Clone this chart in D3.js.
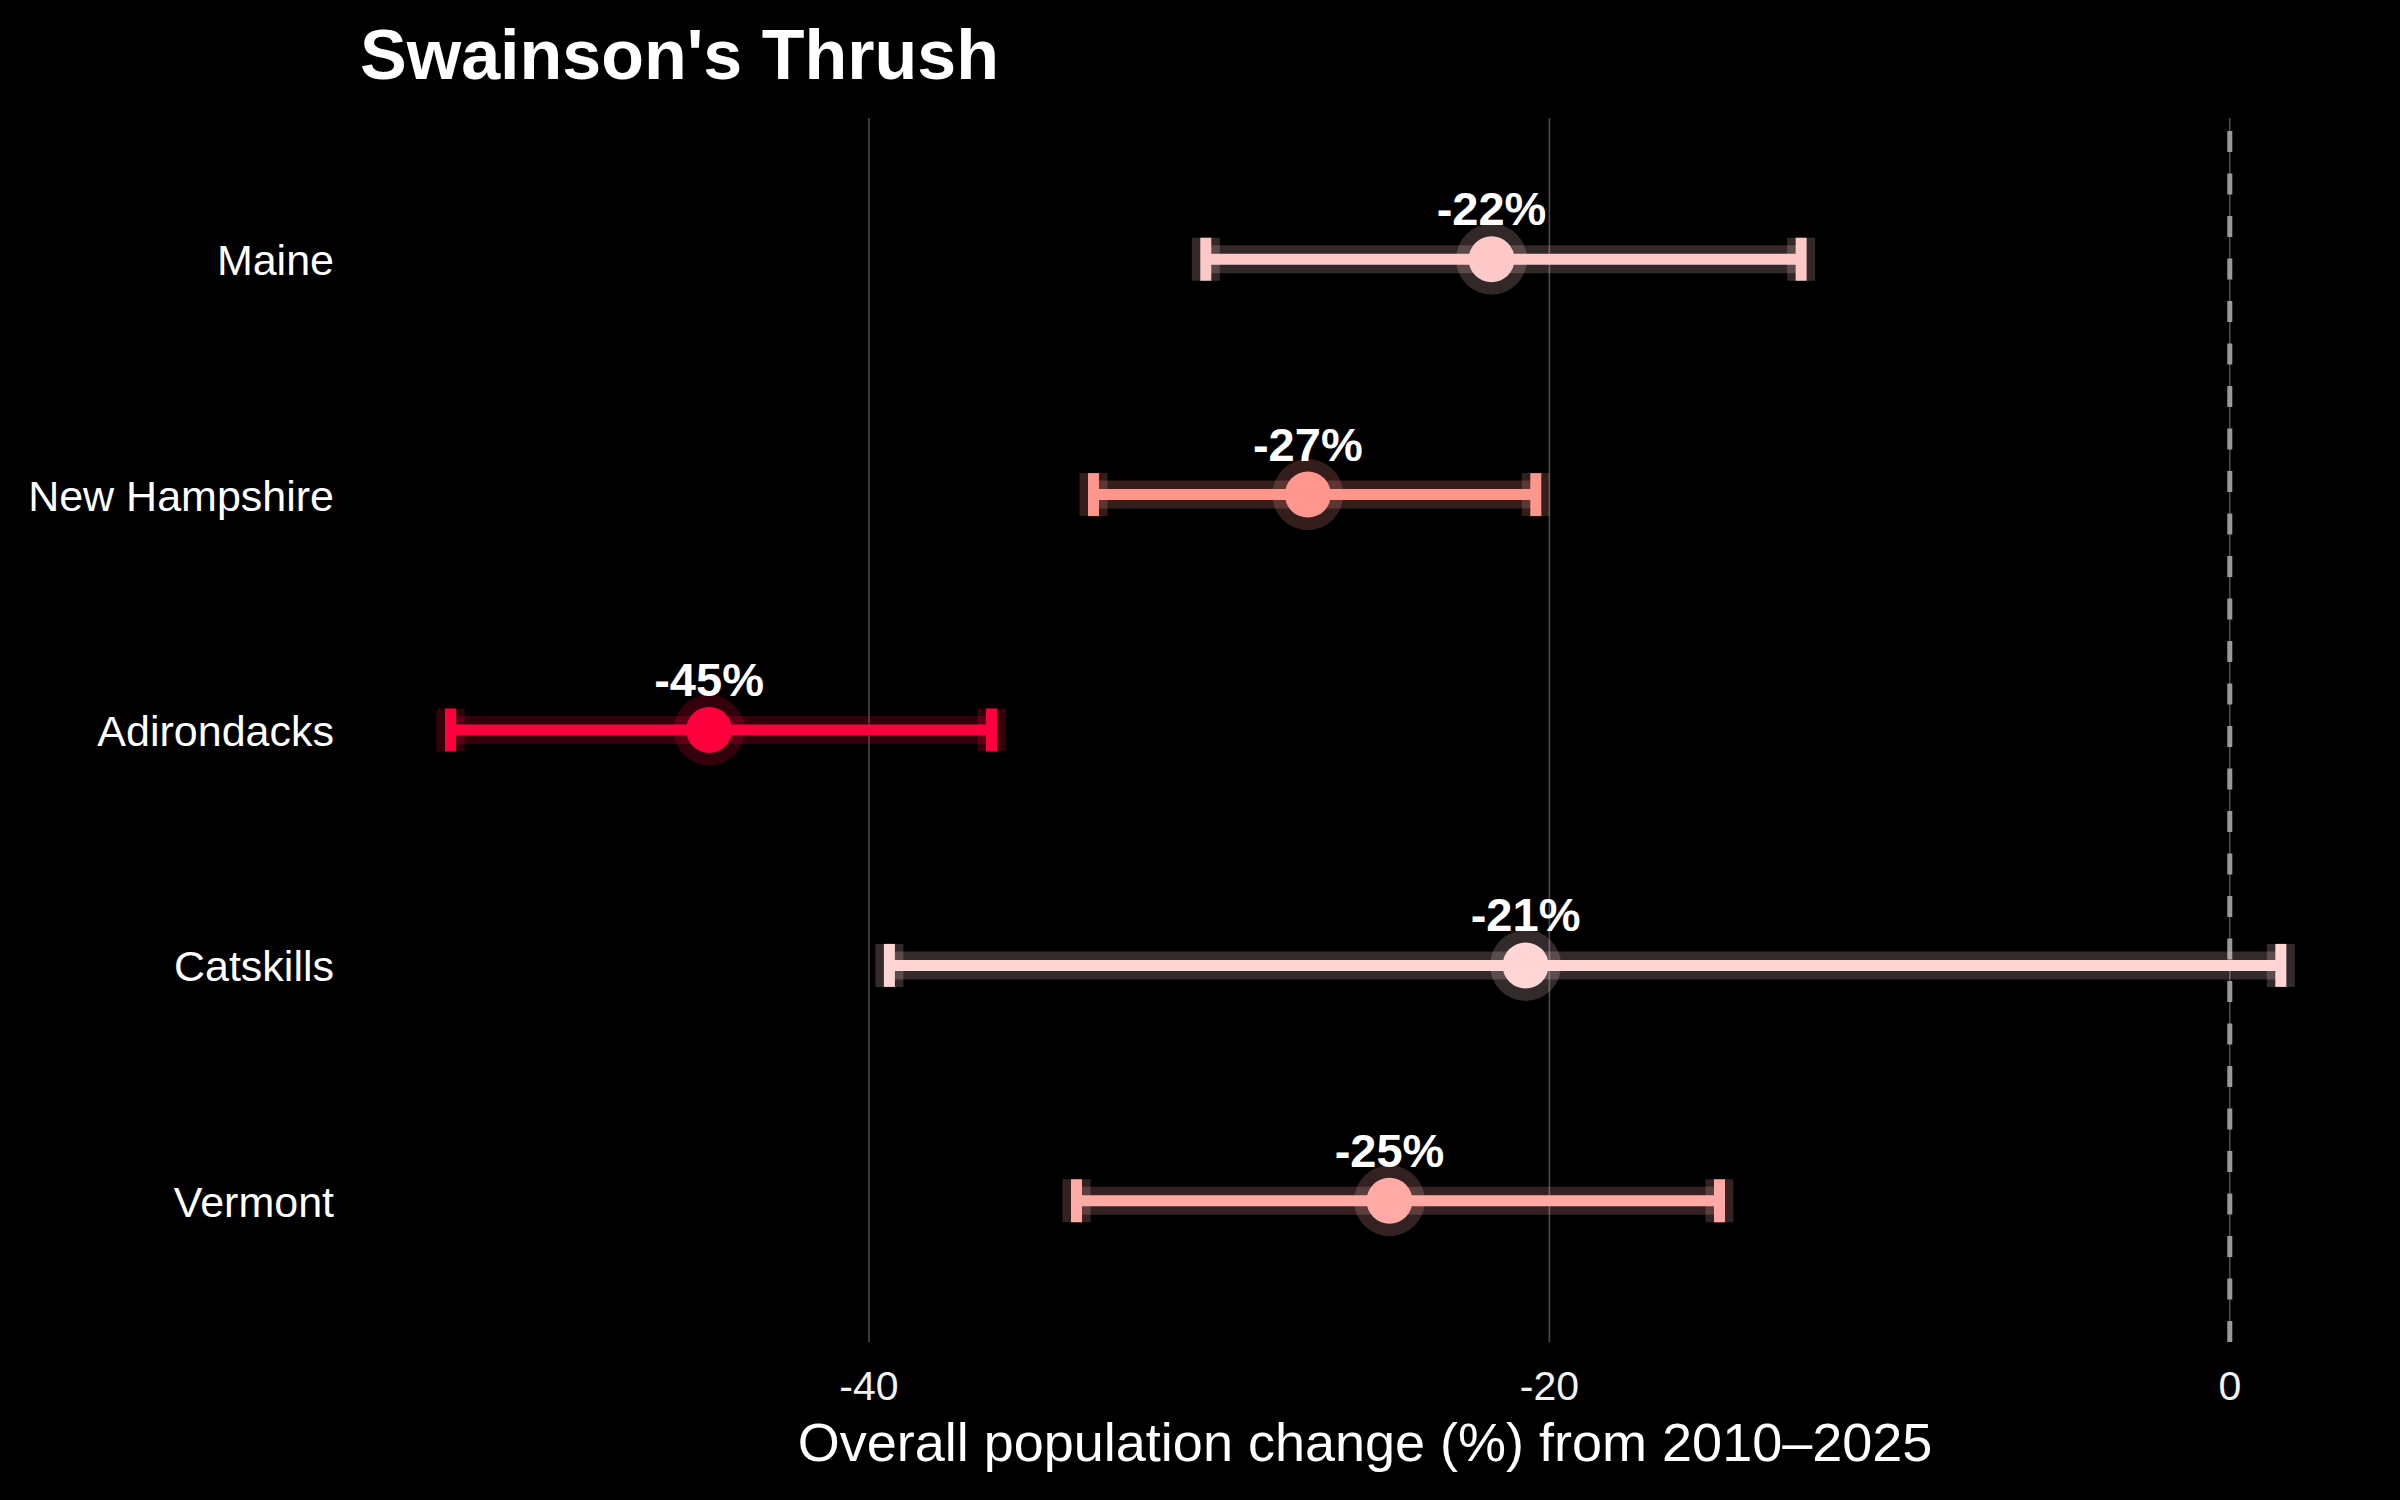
<!DOCTYPE html>
<html>
<head>
<meta charset="utf-8">
<title>Swainson's Thrush</title>
<script src="https://cdn.jsdelivr.net/npm/d3@7/dist/d3.min.js"></script>
<style>
  html, body { margin: 0; padding: 0; background: #000; }
  svg { display: block; font-family: 'Liberation Sans', Arial, sans-serif; }
</style>
</head>
<body>
<div id="chart"></div>
<script>
// ── Data ──
const regions   = ['Maine', 'New Hampshire', 'Adirondacks', 'Catskills', 'Vermont'];
const estimates = [-21.7, -27.1, -44.7, -20.7, -24.7];
const lowerCI   = [-30.1, -33.4, -52.3, -39.4, -33.9];
const upperCI   = [-12.6, -20.4, -36.4,   1.5, -15.0];
const regionColors = ['#ffc8c8', '#ff968d', '#ff003c', '#ffd5d5', '#ffaaa5'];
const xTicks    = [-40, -20, 0];
const xDomain   = [-55.02, 4.18];
const titleText = "Swainson's Thrush";
const xTitle    = 'Overall population change (%) from 2010–2025';

(() => {
  'use strict';

  const W = 2400, H = 1500;
  const panel = { left: 358, right: 2372, top: 118, bottom: 1342 };

  const rows = regions.map((r, i) => ({
    region: r, est: estimates[i], lo: lowerCI[i], hi: upperCI[i]
  }));

  const x = d3.scaleLinear().domain(xDomain).range([panel.left, panel.right]);
  const y = d3.scalePoint().domain(regions).range([panel.top, panel.bottom]).padding(0.6);
  const color = d3.scaleOrdinal().domain(regions).range(regionColors);

  const svg = d3.select('#chart').append('svg')
    .attr('width', W)
    .attr('height', H);

  svg.append('rect').attr('width', W).attr('height', H).attr('fill', '#000');

  // ── Grid ──
  const grid = svg.append('g').attr('class', 'grid');
  grid.selectAll('line').data(xTicks).join('line')
    .attr('x1', d => x(d)).attr('x2', d => x(d))
    .attr('y1', panel.top).attr('y2', panel.bottom)
    .attr('stroke', '#4a4a4a')
    .attr('stroke-width', 1.6);

  // zero reference line
  svg.append('line')
    .attr('x1', x(0)).attr('x2', x(0))
    .attr('y1', panel.bottom).attr('y2', panel.top)
    .attr('stroke', '#9a9a9a')
    .attr('stroke-width', 5)
    .attr('stroke-dasharray', '21,21.5');

  // ── Error bars + points ──
  const CAP = 21.5;
  const g = svg.append('g').attr('class', 'marks')
    .selectAll('g').data(rows).join('g')
    .attr('transform', d => `translate(0,${y(d.region)})`);

  function errorbar(sel, lw, opacity) {
    const eb = sel.append('g').attr('stroke', d => color(d.region)).attr('stroke-opacity', opacity);
    eb.append('line')
      .attr('x1', d => x(d.lo)).attr('x2', d => x(d.hi))
      .attr('y1', 0).attr('y2', 0)
      .attr('stroke-width', lw);
    eb.append('line')
      .attr('x1', d => x(d.lo)).attr('x2', d => x(d.lo))
      .attr('y1', -CAP).attr('y2', CAP)
      .attr('stroke-width', lw);
    eb.append('line')
      .attr('x1', d => x(d.hi)).attr('x2', d => x(d.hi))
      .attr('y1', -CAP).attr('y2', CAP)
      .attr('stroke-width', lw);
  }

  // soft glow layer
  errorbar(g, 28, 0.2);
  g.append('circle')
    .attr('cx', d => x(d.est)).attr('cy', 0)
    .attr('r', 35.5)
    .attr('fill', d => color(d.region))
    .attr('fill-opacity', 0.2);

  // solid layer
  errorbar(g, 11, 1);
  g.append('circle')
    .attr('cx', d => x(d.est)).attr('cy', 0)
    .attr('r', 23)
    .attr('fill', d => color(d.region));

  g.append('text')
    .attr('x', d => x(d.est))
    .attr('y', -34)
    .attr('text-anchor', 'middle')
    .attr('font-size', 47)
    .attr('font-weight', 'bold')
    .attr('fill', '#fff')
    .text(d => `${Math.round(d.est)}%`);

  // ── Axes ──
  svg.append('g').selectAll('text').data(regions).join('text')
    .attr('x', 334)
    .attr('y', d => y(d) + 16)
    .attr('text-anchor', 'end')
    .attr('font-size', 43)
    .attr('fill', '#fff')
    .text(d => d);

  svg.append('g').selectAll('text').data(xTicks).join('text')
    .attr('x', d => x(d))
    .attr('y', 1400)
    .attr('text-anchor', 'middle')
    .attr('font-size', 41)
    .attr('fill', '#f2f2f2')
    .text(d => String(d));

  svg.append('text')
    .attr('x', (panel.left + panel.right) / 2)
    .attr('y', 1461)
    .attr('text-anchor', 'middle')
    .attr('font-size', 54)
    .attr('fill', '#fff')
    .text(xTitle);

  svg.append('text')
    .attr('x', 360)
    .attr('y', 79)
    .attr('font-size', 70)
    .attr('font-weight', 'bold')
    .attr('fill', '#fff')
    .text(titleText);
})();
</script>
</body>
</html>
